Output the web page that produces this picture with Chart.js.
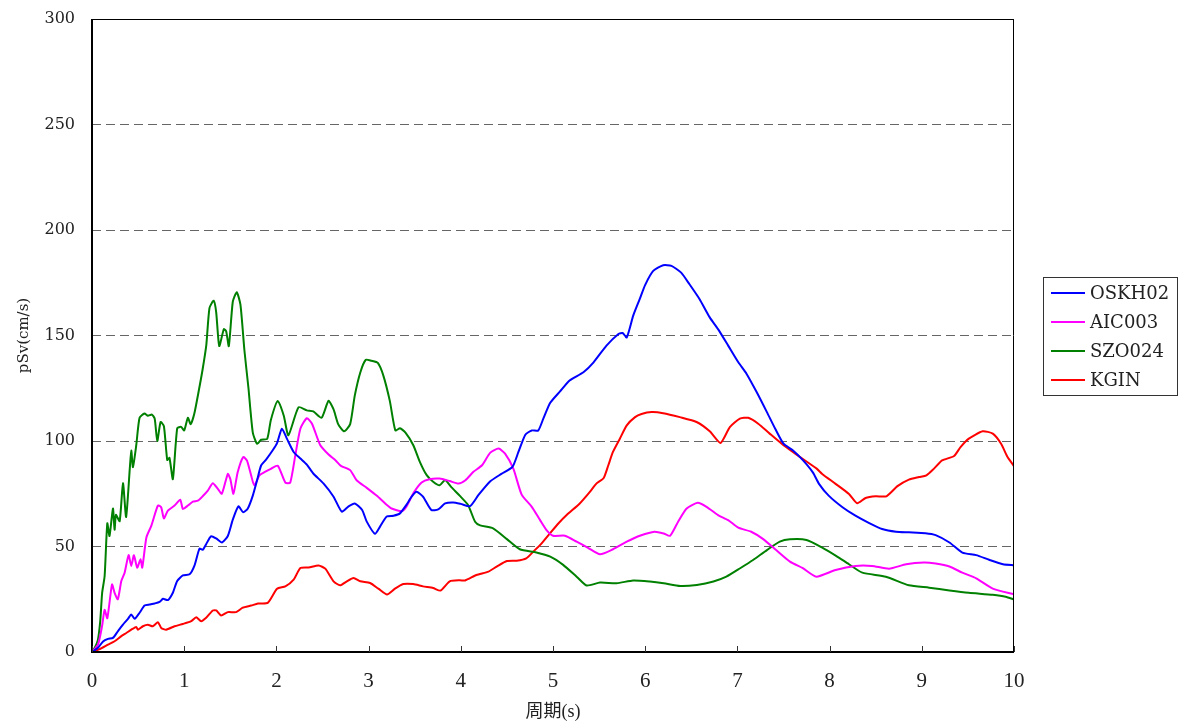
<!DOCTYPE html>
<html>
<head>
<meta charset="utf-8">
<script src="https://cdn.jsdelivr.net/npm/chart.js@4/dist/chart.umd.min.js"></script>
<style>
  html, body { margin: 0; padding: 0; background: #fff; }
  canvas { display: block; }
</style>
</head>
<body>
<canvas id="chart" width="1178" height="727"></canvas>
<script>
// pSv spectra, period (s) vs value (cm/s)
const seriesNames = ["OSKH02", "AIC003", "SZO024", "KGIN"]
const seriesColors = ["#0000ff", "#ff00ff", "#008000", "#ff0000"]
const xTicks = [0, 1, 2, 3, 4, 5, 6, 7, 8, 9, 10]
const yTicks = [0, 50, 100, 150, 200, 250, 300]

const oskPeriod = [0, 0.065, 0.12, 0.173, 0.227, 0.28, 0.336, 0.39, 0.426, 0.462, 0.516, 0.57, 0.625, 0.68, 0.733, 0.77, 0.823, 0.877, 0.924, 0.986, 1.058, 1.11, 1.166, 1.2, 1.238, 1.29, 1.347, 1.41, 1.473, 1.527, 1.588, 1.64, 1.69, 1.744, 1.79, 1.834, 1.89, 1.96, 2.007, 2.06, 2.115, 2.187, 2.26, 2.33, 2.4, 2.51, 2.62, 2.71, 2.78, 2.85, 2.93, 2.98, 3.07, 3.124, 3.196, 3.27, 3.34, 3.41, 3.467, 3.52, 3.59, 3.68, 3.755, 3.83, 3.917, 4.0, 4.1, 4.19, 4.32, 4.44, 4.56, 4.625, 4.7, 4.77, 4.84, 4.895, 4.97, 5.076, 5.18, 5.33, 5.44, 5.58, 5.71, 5.755, 5.8, 5.87, 5.94, 6.0, 6.087, 6.195, 6.285, 6.39, 6.48, 6.59, 6.7, 6.79, 6.9, 7.01, 7.1, 7.21, 7.32, 7.41, 7.5, 7.6, 7.71, 7.82, 7.885, 7.99, 8.14, 8.28, 8.43, 8.57, 8.72, 8.86, 9.04, 9.15, 9.3, 9.44, 9.59, 9.73, 9.88, 10]
const oskPsv = [0, 2, 5, 6.2, 6.7, 9.8, 13, 15.7, 17.8, 15.7, 18.6, 22, 22.5, 23, 23.7, 25.2, 24.6, 28.1, 33.7, 36.3, 36.8, 40.8, 49, 48.4, 51.1, 54.8, 53.8, 51.9, 55, 62.7, 69, 66.2, 68, 74.1, 81.3, 88.4, 91.3, 95.6, 99, 105.8, 101, 94.8, 91.7, 88.8, 84.6, 79.9, 73.6, 66.5, 68.9, 70.4, 67.3, 61.8, 56, 59.4, 64.2, 64.6, 65.7, 69.7, 73.6, 75.9, 73.6, 67.3, 67.6, 70.4, 70.9, 70.2, 69.1, 74.3, 80.9, 84.4, 87.7, 94.8, 103, 105, 105, 110.6, 118.1, 123.5, 128.7, 132.6, 137.3, 145.2, 150.7, 151.2, 149.1, 159.4, 167.2, 174, 180.6, 183.3, 183, 179.8, 174.3, 167.2, 158.6, 153, 145.2, 137.3, 131.8, 123.1, 113.7, 105.8, 98.7, 95.6, 90.9, 85, 79.7, 74.1, 68.6, 64.6, 61.1, 58.3, 57, 56.7, 56.3, 55.4, 51.9, 47.1, 45.9, 43.7, 41.6, 41.1]

const aicPeriod = [0, 0.065, 0.108, 0.137, 0.166, 0.217, 0.245, 0.28, 0.318, 0.354, 0.397, 0.426, 0.455, 0.49, 0.527, 0.545, 0.59, 0.643, 0.715, 0.75, 0.78, 0.823, 0.895, 0.957, 0.986, 1.04, 1.094, 1.148, 1.2, 1.256, 1.31, 1.365, 1.408, 1.473, 1.5, 1.534, 1.58, 1.64, 1.68, 1.726, 1.76, 1.816, 1.87, 1.94, 2.015, 2.097, 2.15, 2.205, 2.26, 2.33, 2.386, 2.476, 2.566, 2.64, 2.7, 2.8, 2.87, 2.98, 3.09, 3.18, 3.25, 3.36, 3.41, 3.485, 3.575, 3.66, 3.77, 3.88, 3.975, 4.05, 4.137, 4.23, 4.32, 4.41, 4.48, 4.57, 4.66, 4.77, 4.86, 4.93, 5.0, 5.13, 5.256, 5.38, 5.51, 5.65, 5.8, 5.95, 6.1, 6.2, 6.27, 6.36, 6.45, 6.57, 6.665, 6.79, 6.9, 7.01, 7.15, 7.28, 7.42, 7.57, 7.71, 7.855, 8.065, 8.28, 8.46, 8.645, 8.83, 9.025, 9.15, 9.3, 9.44, 9.59, 9.77, 10]
const aicPsv = [0, 3.5, 12, 20, 16, 32, 28, 25, 33.6, 37.6, 45.9, 40.8, 45.9, 40, 44, 40, 54.3, 59.8, 69.4, 68.6, 63.3, 67, 69.4, 72.2, 67.8, 69.4, 71.3, 71.7, 73.8, 76.5, 80, 77.3, 75, 84.4, 82, 75, 85.2, 92.4, 90.8, 83.7, 78.9, 83.7, 85.2, 86.8, 88.3, 80.3, 80.3, 93.2, 105.8, 110.8, 108.2, 98, 93.6, 90.9, 88.2, 86.2, 81.4, 77.8, 74, 70.4, 68, 66.8, 68.9, 75.2, 80.3, 81.9, 82.2, 81, 79.8, 81.4, 85.4, 88.5, 94.5, 96.4, 94, 86.9, 74.6, 68.8, 62.5, 57.8, 55.1, 55.1, 52.3, 49.4, 46.3, 48.7, 52.3, 55.2, 57, 56.2, 55.1, 62, 68, 70.7, 68.8, 64.9, 62.5, 58.9, 57, 53.5, 48.3, 42.8, 39.7, 35.7, 38.9, 40.8, 40.8, 39.5, 41.6, 42.4, 41.9, 40.5, 37.6, 34.9, 30, 27.3]

const szoPeriod = [0, 0.03, 0.065, 0.09, 0.11, 0.137, 0.166, 0.19, 0.227, 0.245, 0.26, 0.3, 0.336, 0.37, 0.41, 0.426, 0.444, 0.48, 0.516, 0.57, 0.606, 0.65, 0.68, 0.708, 0.744, 0.78, 0.816, 0.84, 0.877, 0.924, 0.967, 1.0, 1.04, 1.07, 1.11, 1.166, 1.2, 1.24, 1.274, 1.32, 1.347, 1.38, 1.43, 1.455, 1.484, 1.527, 1.57, 1.61, 1.653, 1.697, 1.744, 1.79, 1.834, 1.9, 1.94, 2.015, 2.08, 2.13, 2.24, 2.33, 2.4, 2.49, 2.565, 2.62, 2.67, 2.735, 2.8, 2.85, 2.91, 2.97, 3.03, 3.1, 3.16, 3.23, 3.29, 3.34, 3.4, 3.485, 3.557, 3.63, 3.7, 3.77, 3.83, 3.9, 3.99, 4.08, 4.155, 4.21, 4.35, 4.5, 4.64, 4.82, 4.97, 5.11, 5.256, 5.365, 5.51, 5.69, 5.87, 6.05, 6.2, 6.38, 6.56, 6.74, 6.88, 7.03, 7.17, 7.32, 7.46, 7.57, 7.75, 7.92, 8.07, 8.21, 8.355, 8.61, 8.86, 9.08, 9.3, 9.51, 9.77, 9.91, 10]
const szoPsv = [0, 2, 6, 15, 28, 36, 61, 55, 68, 58, 65, 62, 80, 64, 87, 95.5, 87.6, 98, 111, 113, 112, 112.5, 110.6, 100, 109, 107, 91, 92, 82, 106, 106.7, 105, 111, 108, 113, 125.7, 134, 145.6, 163, 166.5, 161, 145, 153, 152, 145, 166, 170.5, 164.6, 143, 125, 104, 98.7, 100.6, 101, 110, 119, 112, 102.7, 116, 114.5, 114, 111, 119, 115, 108, 104.6, 108, 121.5, 132.5, 138.5, 138, 137, 131, 119, 105, 106, 104, 98, 90, 83.8, 80.7, 79, 81.5, 78, 74, 69.6, 61.7, 60, 58.6, 53.5, 48.7, 47.2, 45.2, 41.3, 35.7, 31.5, 32.9, 32.6, 33.9, 33.4, 32.6, 31.3, 31.8, 33.4, 35.7, 39.7, 43.6, 48.3, 52.3, 53.4, 53.1, 49.5, 45.6, 41.6, 37.6, 35.7, 31.6, 30.5, 29.2, 28.1, 27.1, 26.2, 24.9]

const kgnPeriod = [0, 0.083, 0.173, 0.245, 0.318, 0.372, 0.426, 0.48, 0.498, 0.552, 0.606, 0.66, 0.715, 0.751, 0.805, 0.895, 0.986, 1.076, 1.13, 1.184, 1.238, 1.31, 1.347, 1.4, 1.473, 1.563, 1.635, 1.726, 1.8, 1.906, 2.007, 2.097, 2.187, 2.26, 2.35, 2.458, 2.53, 2.62, 2.69, 2.764, 2.836, 2.91, 3.016, 3.106, 3.2, 3.286, 3.376, 3.485, 3.59, 3.7, 3.78, 3.88, 3.99, 4.047, 4.17, 4.3, 4.39, 4.5, 4.606, 4.71, 4.787, 4.877, 4.967, 5.058, 5.148, 5.29, 5.4, 5.47, 5.55, 5.6, 5.65, 5.725, 5.8, 5.89, 5.96, 6.07, 6.195, 6.376, 6.557, 6.7, 6.817, 6.918, 7.027, 7.117, 7.226, 7.35, 7.5, 7.68, 7.86, 7.92, 8.065, 8.21, 8.3, 8.39, 8.5, 8.616, 8.736, 8.86, 8.97, 9.05, 9.13, 9.22, 9.35, 9.42, 9.51, 9.66, 9.77, 9.86, 9.93, 10]
const kgnPsv = [0, 1.4, 3.5, 5.1, 7.5, 9, 10.6, 11.9, 10.6, 12.2, 12.9, 12.2, 14.1, 11.4, 10.6, 12.2, 13.3, 14.6, 16.5, 14.6, 16.2, 19.7, 19.7, 17.3, 18.9, 18.9, 21, 22, 23, 23.3, 30, 31.1, 34.3, 39.8, 40.1, 41, 39.5, 33.5, 31.6, 33.5, 35.1, 33.5, 32.7, 30, 27.2, 30, 32.2, 32.2, 31.1, 30.3, 29.1, 33.5, 34, 33.9, 36.5, 38.1, 40.5, 43.1, 43.3, 44.4, 47.6, 51.5, 56.2, 60.9, 64.9, 70.4, 75.9, 79.8, 82.5, 88.5, 94.8, 101.1, 107.4, 111.3, 112.8, 113.7, 113.2, 111.3, 109, 104.6, 99.1, 106.6, 110.6, 111, 108.2, 103.5, 98, 92.4, 86.9, 84.4, 79.7, 74.9, 70.5, 73, 73.8, 73.8, 78.6, 81.7, 82.9, 83.7, 86.8, 90.8, 92.9, 97.1, 101.1, 104.6, 103.5, 98.7, 92.4, 88.1]

const periods = [oskPeriod, aicPeriod, szoPeriod, kgnPeriod]
const values = [oskPsv, aicPsv, szoPsv, kgnPsv]

function toPoints(xs, ys) {
    return xs.map((x, i) => ({ x: x, y: ys[i] }))
}

// frame, inside x ticks and the boxed legend
const framePlugin = {
    id: "frame",
    afterDatasetsDraw(chart) {
        const ctx = chart.ctx
        const a = chart.chartArea
        const xs = chart.scales.x
        ctx.save()
        ctx.strokeStyle = "#000"
        ctx.lineWidth = 1
        ctx.beginPath()
        ctx.moveTo(a.left, a.top + 0.5)
        ctx.lineTo(a.right, a.top + 0.5)
        ctx.moveTo(a.right - 0.5, a.top)
        ctx.lineTo(a.right - 0.5, a.bottom)
        ctx.stroke()
        ctx.lineWidth = 2
        ctx.beginPath()
        ctx.moveTo(a.left, a.top)
        ctx.lineTo(a.left, a.bottom)
        ctx.lineTo(a.right, a.bottom)
        ctx.stroke()
        ctx.strokeStyle = "#333"
        ctx.lineWidth = 1
        ctx.beginPath()
        xTicks.forEach(t => {
            const px = Math.round(xs.getPixelForValue(t)) + 0.5
            ctx.moveTo(px, a.bottom)
            ctx.lineTo(px, a.bottom - 6)
        })
        ctx.stroke()
        ctx.restore()
    },
    afterDraw(chart) {
        const ctx = chart.ctx
        const left = 1043.5, top = 277.5, w = 134, h = 118
        ctx.save()
        ctx.fillStyle = "#fff"
        ctx.fillRect(left, top, w, h)
        ctx.strokeStyle = "#333"
        ctx.lineWidth = 1
        ctx.strokeRect(left, top, w, h)
        ctx.font = "18px 'DejaVu Serif'"
        ctx.textBaseline = "middle"
        ctx.fillStyle = "#222"
        chart.data.datasets.forEach((ds, i) => {
            const y = 293 + i * 29
            ctx.strokeStyle = ds.borderColor
            ctx.lineWidth = 2
            ctx.beginPath()
            ctx.moveTo(1051, y)
            ctx.lineTo(1085, y)
            ctx.stroke()
            ctx.fillText(ds.label, 1090, y + 1)
        })
        ctx.restore()
    }
}

new Chart(document.getElementById("chart"), {
    type: "line",
    data: {
        datasets: seriesNames.map((name, i) => ({
            label: name,
            data: toPoints(periods[i], values[i]),
            borderColor: seriesColors[i],
            backgroundColor: seriesColors[i],
            borderWidth: 2,
            pointRadius: 0,
            tension: 0.2,
            fill: false
        }))
    },
    options: {
        responsive: false,
        animation: false,
        layout: { padding: { top: 19, right: 164, left: 0, bottom: 0 } },
        plugins: {
            legend: { display: false },
            tooltip: { enabled: false }
        },
        scales: {
            x: {
                type: "linear",
                min: 0,
                max: 10,
                afterBuildTicks: s => { s.ticks = xTicks.map(v => ({ value: v })) },
                afterFit: s => {
                    s.height = 75
                    s.paddingLeft = 0
                    s.paddingRight = 0
                },
                grid: { display: false, drawTicks: false },
                border: { display: false },
                ticks: {
                    padding: 17,
                    color: "#222",
                    font: { family: "'Liberation Serif'", size: 21 },
                    maxRotation: 0
                },
                title: {
                    display: true,
                    text: "周期(s)",
                    color: "#222",
                    font: { family: "'Liberation Serif', 'Noto Sans CJK JP'", size: 18 },
                    padding: { top: 0, bottom: 4 }
                }
            },
            y: {
                min: 0,
                max: 300,
                afterBuildTicks: s => { s.ticks = yTicks.map(v => ({ value: v })) },
                afterFit: s => {
                    s.width = 92
                    s.paddingTop = 0
                    s.paddingBottom = 0
                },
                grid: {
                    color: "#666",
                    lineWidth: 1,
                    drawTicks: false
                },
                border: { display: false, dash: [9, 5] },
                ticks: {
                    padding: 17,
                    color: "#222",
                    font: { family: "'DejaVu Serif'", size: 16 }
                },
                title: {
                    display: true,
                    text: "pSv(cm/s)",
                    color: "#222",
                    font: { family: "'DejaVu Serif'", size: 15 },
                    padding: { top: 15, bottom: 0 }
                }
            }
        }
    },
    plugins: [framePlugin]
})
</script>
</body>
</html>
